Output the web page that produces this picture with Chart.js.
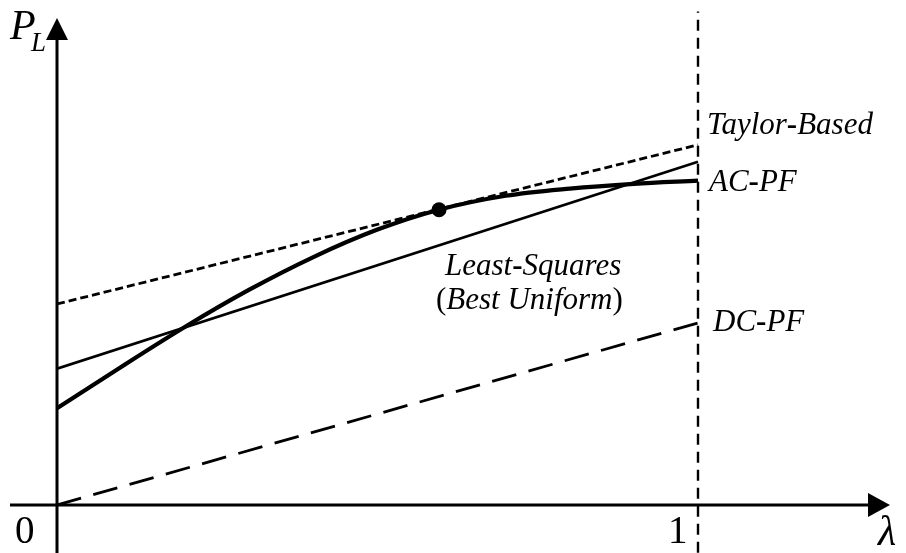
<!DOCTYPE html>
<html>
<head>
<meta charset="utf-8">
<script src="https://cdn.jsdelivr.net/npm/chart.js@4.4.1/dist/chart.umd.min.js"></script>
<style>
  body { margin: 0; background: #fff; }
  #wrap { width: 906px; height: 553px; position: relative; }
</style>
</head>
<body>
<div id="wrap"><canvas id="plot"></canvas></div>
<script>
// lambda from 0 to 1, P_L in arbitrary units
const lambdaEnds = [0, 1];
const taylorY = [0.505, 0.905];
const leastSqY = [0.3425, 0.8625];
const dcpfY = [0, 0.4575];

const acpfX = [0, 0.1, 0.2, 0.3, 0.4, 0.5, 0.596, 0.7, 0.8, 0.9, 1];
const acpfY = [0.243, 0.347, 0.448, 0.541, 0.623, 0.692, 0.742, 0.777, 0.795, 0.807, 0.815];

// point where the Taylor line touches the AC-PF curve
const tangentX = [0.596];
const tangentY = [0.742];

// limit line at lambda = 1
const limitY = [-0.12, 1.24];

const pts = (xs, ys) => xs.map((x, i) => ({ x: x, y: ys[i] }));

const X_MAX = 1.3, Y_MAX = 1.25;
const LEFT = 57, UNIT_X = 641, ZERO_Y = 505, UNIT_Y = 400;

const serif = '"Liberation Serif", "Times New Roman", serif';

function richText(ctx, x, y, parts) {
  parts.forEach(([txt, font]) => {
    ctx.font = font;
    ctx.fillText(txt, x, y);
    x += ctx.measureText(txt).width;
  });
}

const decorations = {
  id: 'decorations',
  afterDraw(chart) {
    const ctx = chart.ctx;
    const xs = chart.scales.x, ys = chart.scales.y;
    const x0 = xs.getPixelForValue(0), y0 = ys.getPixelForValue(0);
    ctx.save();
    ctx.fillStyle = '#000';
    ctx.strokeStyle = '#000';
    ctx.lineWidth = 3;

    // axes
    ctx.beginPath();
    ctx.moveTo(x0, chart.height);
    ctx.lineTo(x0, 38);
    ctx.moveTo(10, y0);
    ctx.lineTo(871, y0);
    ctx.stroke();

    // arrow heads
    ctx.beginPath();
    ctx.moveTo(x0, 18);
    ctx.lineTo(x0 - 11, 40);
    ctx.lineTo(x0 + 11, 40);
    ctx.closePath();
    ctx.fill();
    ctx.beginPath();
    ctx.moveTo(890, y0);
    ctx.lineTo(868, y0 - 12);
    ctx.lineTo(868, y0 + 12);
    ctx.closePath();
    ctx.fill();

    ctx.textBaseline = 'alphabetic';
    const it = s => 'italic ' + s + 'px ' + serif;
    const up = s => s + 'px ' + serif;
    const hy = s => 'bold ' + s + 'px ' + serif;

    // axis names and marks
    richText(ctx, 10, 39, [['P', it(42)]]);
    richText(ctx, 31, 51, [['L', it(27)]]);
    richText(ctx, 15, 543, [['0', up(39)]]);
    richText(ctx, 668, 543, [['1', up(39)]]);
    richText(ctx, 878, 545, [['λ', it(42)]]);

    // curve labels
    richText(ctx, 707, 134, [['Taylor', it(31)], ['-', hy(31)], ['Based', it(31)]]);
    richText(ctx, 709, 191, [['AC', it(31)], ['-', hy(31)], ['PF', it(31)]]);
    richText(ctx, 713, 331, [['DC', it(31)], ['-', hy(31)], ['PF', it(31)]]);
    richText(ctx, 445, 275, [['Least', it(31)], ['-', hy(31)], ['Squares', it(31)]]);
    richText(ctx, 436, 309, [['(', up(31)], ['Best Uniform', it(31)], [')', up(31)]]);
    ctx.restore();
  }
};

new Chart(document.getElementById('plot'), {
  type: 'line',
  data: {
    datasets: [
      {
        label: 'limit',
        data: pts([1, 1], limitY),
        borderColor: '#000',
        borderWidth: 2.4,
        borderDash: [11, 7],
        pointRadius: 0,
        clip: false
      },
      {
        label: 'DC-PF',
        data: pts(lambdaEnds, dcpfY),
        borderColor: '#000',
        borderWidth: 2.8,
        borderDash: [25, 12.7],
        pointRadius: 0
      },
      {
        label: 'Least-Squares',
        data: pts(lambdaEnds, leastSqY),
        borderColor: '#000',
        borderWidth: 2.6,
        pointRadius: 0
      },
      {
        label: 'Taylor-Based',
        data: pts(lambdaEnds, taylorY),
        borderColor: '#000',
        borderWidth: 2.8,
        borderDash: [8, 4],
        pointRadius: 0
      },
      {
        label: 'AC-PF',
        data: pts(acpfX, acpfY),
        borderColor: '#000',
        borderWidth: 4.2,
        cubicInterpolationMode: 'monotone',
        pointRadius: 0
      },
      {
        label: 'tangent',
        data: pts(tangentX, tangentY),
        showLine: false,
        pointRadius: 7.5,
        pointBackgroundColor: '#000',
        pointBorderColor: '#000',
        pointBorderWidth: 0
      }
    ]
  },
  options: {
    responsive: true,
    maintainAspectRatio: false,
    animation: false,
    events: [],
    layout: {
      padding: {
        left: LEFT,
        right: 906 - LEFT - UNIT_X * X_MAX,
        top: ZERO_Y - UNIT_Y * Y_MAX,
        bottom: 553 - ZERO_Y
      }
    },
    scales: {
      x: { type: 'linear', min: 0, max: X_MAX, display: false },
      y: { type: 'linear', min: 0, max: Y_MAX, display: false }
    },
    plugins: {
      legend: { display: false },
      tooltip: { enabled: false }
    }
  },
  plugins: [decorations]
});
</script>
</body>
</html>
